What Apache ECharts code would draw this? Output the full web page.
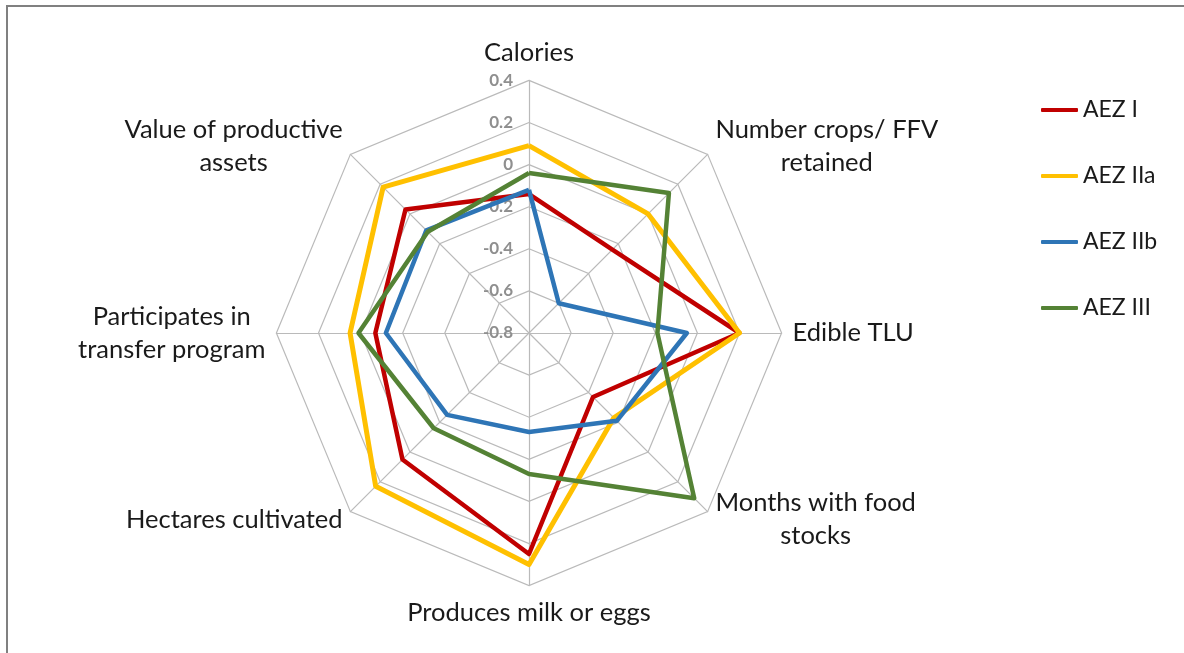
<!DOCTYPE html>
<html>
<head>
<meta charset="utf-8">
<title>AEZ radar</title>
<script src="https://cdn.jsdelivr.net/npm/echarts@6/dist/echarts.min.js"></script>
<style>
  html, body { margin: 0; padding: 0; background: #ffffff; }
  #chart { width: 1184px; height: 653px; }
</style>
</head>
<body>
<div id="chart"></div>
<script>
// Indicator names, listed clockwise from the top
const indicatorNames = [
  'Calories',
  'Number crops/ FFV\nretained',
  'Edible TLU',
  'Months with food\nstocks',
  'Produces milk or eggs',
  'Hectares cultivated',
  'Participates in\ntransfer program',
  'Value of productive\nassets'
];

// Radial scale
const axisMin = -0.8;
const axisMax = 0.4;
const axisStep = 0.2;

// Series values, same clockwise order as indicatorNames
const seriesNames = ['AEZ I', 'AEZ IIa', 'AEZ IIb', 'AEZ III'];
const aezI   = [-0.14, -0.24,  0.20, -0.37,  0.25,  0.05, -0.07,  0.03];
const aezIIa = [ 0.09,  0.00,  0.20, -0.23,  0.30,  0.23,  0.05,  0.18];
const aezIIb = [-0.12, -0.60, -0.05, -0.21, -0.33, -0.25, -0.12, -0.11];
const aezIII = [-0.04,  0.14, -0.19,  0.31, -0.13, -0.16,  0.01, -0.12];
const seriesColors = ['#C00000', '#FFC000', '#2E75B6', '#548235'];

// ECharts lays radar indicators out counter-clockwise, so walk the
// clockwise lists starting at the top and going the other way round.
const order = indicatorNames.map((_, i) => (indicatorNames.length - i) % indicatorNames.length);
const reorder = arr => order.map(i => arr[i]);

const indicators = reorder(indicatorNames).map((name, i) => {
  const ind = { name: name, min: axisMin, max: axisMax };
  if (i === 0) {
    // scale labels only along the top spoke
    ind.axisLabel = { show: true };
  }
  return ind;
});

const allValues = [aezI, aezIIa, aezIIb, aezIII];

const FONT = 'Lato, "Open Sans", sans-serif';
const NAME_SIZE = 25.5;

const chart = echarts.init(document.getElementById('chart'), null, { renderer: 'canvas' });

chart.setOption({
  backgroundColor: '#ffffff',
  animation: false,
  graphic: [{
    type: 'rect',
    shape: { x: 7, y: 6, width: 1300, height: 800 },
    style: { fill: 'none', stroke: '#808080', lineWidth: 2 },
    silent: true,
    z: -1
  }],
  legend: {
    orient: 'vertical',
    left: 1036,
    top: 93,
    icon: 'roundRect',
    itemWidth: 37,
    itemHeight: 4,
    itemGap: 42,
    data: seriesNames,
    textStyle: {
      fontFamily: FONT,
      fontSize: 23,
      lineHeight: 24,
      color: '#1a1a1a'
    }
  },
  radar: {
    center: [529, 333],
    radius: 252.6,
    startAngle: 90,
    shape: 'polygon',
    splitNumber: Math.round((axisMax - axisMin) / axisStep),
    indicator: indicators,
    nameGap: 11,
    axisName: {
      color: '#1a1a1a',
      fontFamily: FONT,
      fontSize: NAME_SIZE,
      formatter: function (value) {
        return value.split('\n').map(s => '{c|' + s + '}').join('\n');
      },
      rich: {
        c: {
          align: 'center',
          fontFamily: FONT,
          fontSize: NAME_SIZE,
          lineHeight: 33,
          color: '#1a1a1a'
        }
      }
    },
    axisLine: { show: true, lineStyle: { color: '#bababa', width: 1.2 } },
    splitLine: { show: true, lineStyle: { color: '#bababa', width: 1.2 } },
    splitArea: { show: false },
    axisTick: { show: false },
    axisLabel: {
      show: false,
      margin: 16,
      color: '#8f8f8f',
      fontFamily: FONT,
      fontWeight: 'bold',
      fontSize: 17,
      showMinLabel: true,
      showMaxLabel: true,
      formatter: function (v) {
        const r = Math.round(v * 10) / 10;
        return r === 0 ? '0' : String(r);
      }
    }
  },
  series: [{
    type: 'radar',
    symbol: 'none',
    data: allValues.map((vals, i) => ({
      name: seriesNames[i],
      value: reorder(vals),
      lineStyle: { color: seriesColors[i], width: i === 1 ? 5 : 4.5 },
      itemStyle: { color: seriesColors[i] }
    }))
  }]
});
</script>
</body>
</html>
